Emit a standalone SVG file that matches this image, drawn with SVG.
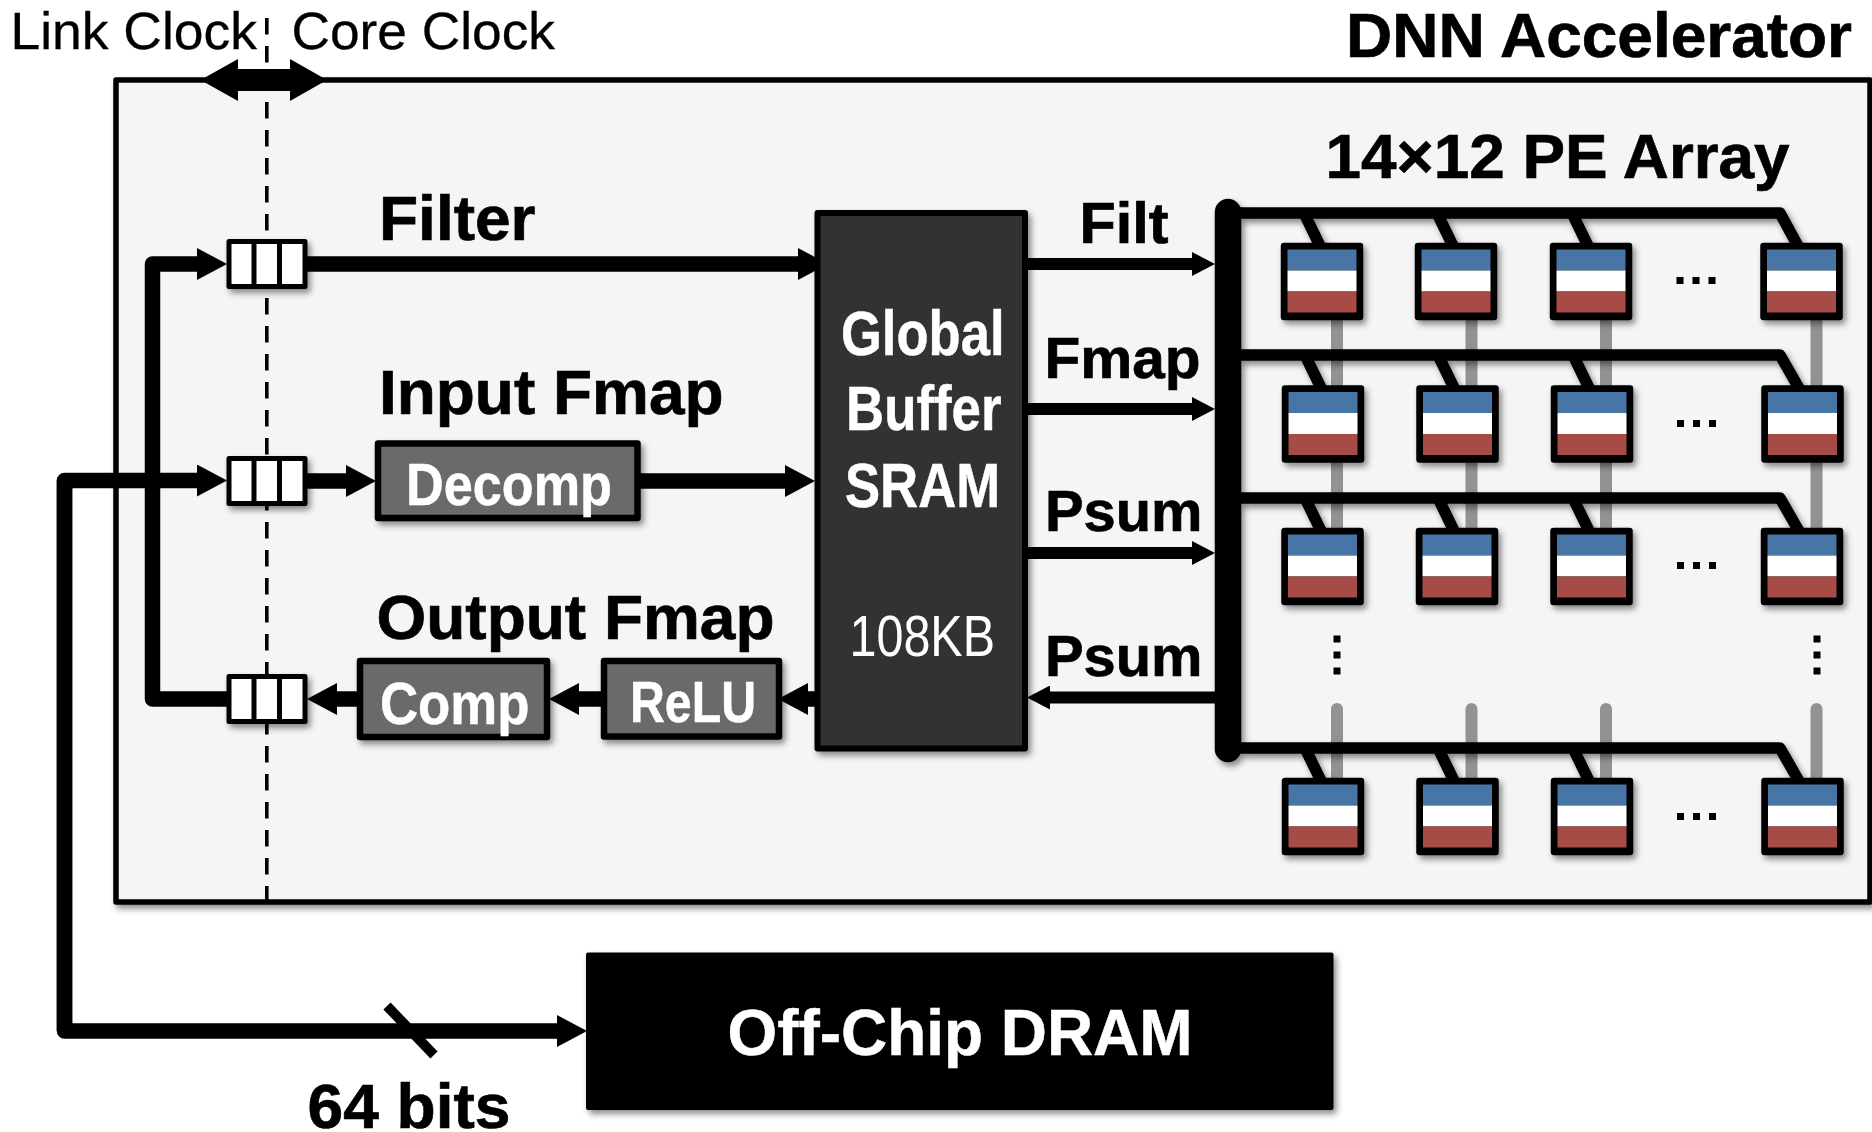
<svg xmlns="http://www.w3.org/2000/svg" xmlns:xlink="http://www.w3.org/1999/xlink" width="1872" height="1132" viewBox="0 0 1872 1132">
<style>
text{font-family:"Liberation Sans",Arial,sans-serif;fill:#000}
.b{font-weight:700;stroke:#000;stroke-width:0.7}
.b.w{stroke:#fff;stroke-width:0.5}
.w{fill:#fff}
.s63{font-size:63px}
.s57{font-size:57px}
.bus{fill:none;stroke:#000;stroke-linejoin:round}
.t15{stroke-width:15.5}
.t12{stroke-width:12}
.row{fill:none;stroke:#000;stroke-width:11.5;stroke-linejoin:round}
.grey{stroke:#929292;stroke-width:12;stroke-linecap:round;fill:none}
.gbox{fill:#6b6b6b;stroke:#000;stroke-width:6.5;stroke-linejoin:round}
.fifo{fill:#fff;stroke:#000;stroke-width:5;stroke-linejoin:round}
.sh{filter:url(#shadow)}
.dot{fill:#000}
</style>
<defs>
<filter id="shadow" filterUnits="userSpaceOnUse" x="0" y="0" width="1872" height="1132">
<feDropShadow dx="3" dy="4" stdDeviation="3" flood-color="#000" flood-opacity="0.45"/>
</filter>
<marker id="aL" markerUnits="userSpaceOnUse" markerWidth="30" markerHeight="32" refX="0" refY="16" orient="auto"><path d="M0 0L30 16L0 32Z"/></marker>
<marker id="aS" markerUnits="userSpaceOnUse" markerWidth="23" markerHeight="24" refX="0" refY="12" orient="auto"><path d="M0 0L23 12L0 24Z"/></marker>
<g id="pe">
<rect x="3" y="3" width="76" height="71" fill="#000" stroke="#000" stroke-width="6.5" stroke-linejoin="round"/>
<rect x="6.5" y="6.5" width="69" height="21" fill="#4674a6"/>
<rect x="6.5" y="27.5" width="69" height="21" fill="#fff"/>
<rect x="6.5" y="48.5" width="69" height="21" fill="#a64b45"/>
</g>
<g id="fifocell">
<rect class="fifo" x="229" y="2.5" width="76" height="45"/>
<path d="M254 2.5V47.5M279.5 2.5V47.5" stroke="#000" stroke-width="5" fill="none"/>
</g>
<g id="hdots"><rect class="dot" x="0" y="0" width="7" height="7"/><rect class="dot" x="16" y="0" width="7" height="7"/><rect class="dot" x="32" y="0" width="7" height="7"/></g>
<g id="vdots"><rect class="dot" x="0" y="0" width="7" height="7"/><rect class="dot" x="0" y="16" width="7" height="7"/><rect class="dot" x="0" y="32" width="7" height="7"/></g>
</defs>

<rect width="1872" height="1132" fill="#fff"/>

<g id="accelerator">
<rect class="sh" x="116" y="80" width="1754" height="822" fill="#f5f5f5" stroke="#000" stroke-width="5.5" stroke-linejoin="round"/>
<text class="b s63" x="1346" y="57" textLength="506" lengthAdjust="spacingAndGlyphs">DNN Accelerator</text>
<text class="b s63" x="1325.5" y="178" textLength="464" lengthAdjust="spacingAndGlyphs">14×12 PE Array</text>
</g>

<g id="clock-labels">
<text x="10.5" y="49" font-size="52" stroke="#000" stroke-width="0.3" textLength="246.5" lengthAdjust="spacingAndGlyphs">Link Clock</text>
<text x="291.5" y="49" font-size="52" stroke="#000" stroke-width="0.3" textLength="263.5" lengthAdjust="spacingAndGlyphs">Core Clock</text>
</g>

<g id="connectors">
<path d="M266.8 18V902" stroke="#000" stroke-width="3.6" stroke-dasharray="16.5 11.5" fill="none"/>
<path d="M200.5 80L238 59V69H290V59L327 80L290 101V91H238V101Z" fill="#000"/>
<path class="bus t15" d="M229 699H152.5V264H197" marker-end="url(#aL)"/>
<path class="bus t15" d="M64.5 1031V480.5H197" marker-end="url(#aL)"/>
<path class="bus t15" d="M64.5 480.5V1031H557" marker-end="url(#aL)"/>
<path d="M387 1006L434 1055" stroke="#000" stroke-width="10" fill="none"/>
<path class="bus t15" d="M305 264H798" marker-end="url(#aL)"/>
<path class="bus t15" d="M305 481H346" marker-end="url(#aL)"/>
<path class="bus t15" d="M638 481H785" marker-end="url(#aL)"/>
<path class="bus t15" d="M358 699H337" marker-end="url(#aL)"/>
<path class="bus t15" d="M602 699H579" marker-end="url(#aL)"/>
<path class="bus t15" d="M816 699H808" marker-end="url(#aL)"/>
<path class="bus t12" d="M1026 264H1192" marker-end="url(#aS)"/>
<path class="bus t12" d="M1026 409H1192" marker-end="url(#aS)"/>
<path class="bus t12" d="M1026 553H1192" marker-end="url(#aS)"/>
<path class="bus t12" d="M1216 697.5H1050" marker-end="url(#aS)"/>
<g>
<path class="grey" d="M1337 319V530M1471.5 319V530M1606 319V530M1816.5 319V530"/>
<path class="grey" d="M1337 709V780M1471.5 709V780M1606 709V780M1816.5 709V780"/>
</g>
<g class="sh">
<path d="M1228 212V749" stroke="#000" stroke-width="26.5" stroke-linecap="round" fill="none"/>
<path class="row" d="M1228 213H1780L1799 248M1304 213L1321 248M1437 213L1454 248M1572 213L1589 248"/>
<path class="row" d="M1228 355H1780L1800 390M1305 355L1322 390M1438 355L1455 390M1573 355L1590 390"/>
<path class="row" d="M1228 498H1780L1800 533M1305 498L1322 533M1438 498L1455 533M1573 498L1590 533"/>
<path class="row" d="M1228 748H1780L1800 783M1305 748L1322 783M1438 748L1455 783M1573 748L1590 783"/>
</g>
</g>

<g id="fifo-filter" class="sh"><use xlink:href="#fifocell" href="#fifocell" y="239"/></g>
<g id="fifo-input" class="sh"><use xlink:href="#fifocell" href="#fifocell" y="456"/></g>
<g id="fifo-output" class="sh"><use xlink:href="#fifocell" href="#fifocell" y="674"/></g>

<g id="labels">
<text class="b s63" x="379" y="240" textLength="156.5" lengthAdjust="spacingAndGlyphs">Filter</text>
<text class="b s63" x="379" y="414" textLength="344.5" lengthAdjust="spacingAndGlyphs">Input Fmap</text>
<text class="b s63" x="376.5" y="638.5" textLength="398" lengthAdjust="spacingAndGlyphs">Output Fmap</text>
<text class="b s63" x="307.5" y="1128" textLength="203" lengthAdjust="spacingAndGlyphs">64 bits</text>
<text class="b s57" x="1079.5" y="242.5" textLength="89" lengthAdjust="spacingAndGlyphs">Filt</text>
<text class="b s57" x="1044.5" y="378" textLength="156" lengthAdjust="spacingAndGlyphs">Fmap</text>
<text class="b s57" x="1045" y="530.5" textLength="157.5" lengthAdjust="spacingAndGlyphs">Psum</text>
<text class="b s57" x="1045" y="676" textLength="157.5" lengthAdjust="spacingAndGlyphs">Psum</text>
</g>

<g id="decomp" class="sh">
<rect class="gbox" x="378" y="443.5" width="259.5" height="74.5"/>
<text class="b w" font-size="60" x="406" y="504.5" textLength="206" lengthAdjust="spacingAndGlyphs">Decomp</text>
</g>
<g id="comp" class="sh">
<rect class="gbox" x="360" y="661" width="187" height="76"/>
<text class="b w" font-size="60" x="380" y="723.5" textLength="149.5" lengthAdjust="spacingAndGlyphs">Comp</text>
</g>
<g id="relu" class="sh">
<rect class="gbox" x="604" y="661" width="175" height="75.5"/>
<text class="b w" font-size="57" x="630" y="721.5" textLength="126" lengthAdjust="spacingAndGlyphs">ReLU</text>
</g>

<g id="global-buffer" class="sh">
<rect x="817.5" y="213" width="207.5" height="535.5" fill="#333" stroke="#000" stroke-width="6" stroke-linejoin="round"/>
<text class="b w s63" x="841" y="355" textLength="163.5" lengthAdjust="spacingAndGlyphs">Global</text>
<text class="b w s63" x="846" y="429.5" textLength="155.5" lengthAdjust="spacingAndGlyphs">Buffer</text>
<text class="b w s63" x="845" y="506.5" textLength="155" lengthAdjust="spacingAndGlyphs">SRAM</text>
<text class="w s57" x="849.5" y="656" textLength="145.5" lengthAdjust="spacingAndGlyphs">108KB</text>
</g>

<g id="pe-array">
<g id="pe-r1-c1" class="sh"><use xlink:href="#pe" href="#pe" x="1281" y="243"/></g>
<g id="pe-r1-c2" class="sh"><use xlink:href="#pe" href="#pe" x="1415" y="243"/></g>
<g id="pe-r1-c3" class="sh"><use xlink:href="#pe" href="#pe" x="1550" y="243"/></g>
<g id="pe-r1-c4" class="sh"><use xlink:href="#pe" href="#pe" x="1760.5" y="243"/></g>
<g id="pe-r2-c1" class="sh"><use xlink:href="#pe" href="#pe" x="1282" y="385.5"/></g>
<g id="pe-r2-c2" class="sh"><use xlink:href="#pe" href="#pe" x="1416.5" y="385.5"/></g>
<g id="pe-r2-c3" class="sh"><use xlink:href="#pe" href="#pe" x="1551" y="385.5"/></g>
<g id="pe-r2-c4" class="sh"><use xlink:href="#pe" href="#pe" x="1761.5" y="385.5"/></g>
<g id="pe-r3-c1" class="sh"><use xlink:href="#pe" href="#pe" x="1281.5" y="528"/></g>
<g id="pe-r3-c2" class="sh"><use xlink:href="#pe" href="#pe" x="1416" y="528"/></g>
<g id="pe-r3-c3" class="sh"><use xlink:href="#pe" href="#pe" x="1550.5" y="528"/></g>
<g id="pe-r3-c4" class="sh"><use xlink:href="#pe" href="#pe" x="1761" y="528"/></g>
<g id="pe-r4-c1" class="sh"><use xlink:href="#pe" href="#pe" x="1282" y="778"/></g>
<g id="pe-r4-c2" class="sh"><use xlink:href="#pe" href="#pe" x="1416.5" y="778"/></g>
<g id="pe-r4-c3" class="sh"><use xlink:href="#pe" href="#pe" x="1551" y="778"/></g>
<g id="pe-r4-c4" class="sh"><use xlink:href="#pe" href="#pe" x="1761.5" y="778"/></g>
<use xlink:href="#hdots" href="#hdots" x="1676.5" y="277"/>
<use xlink:href="#hdots" href="#hdots" x="1677" y="420"/>
<use xlink:href="#hdots" href="#hdots" x="1677" y="562"/>
<use xlink:href="#hdots" href="#hdots" x="1677" y="813"/>
<use xlink:href="#vdots" href="#vdots" x="1333.5" y="635.5"/>
<use xlink:href="#vdots" href="#vdots" x="1813.5" y="635.5"/>
</g>

<g id="dram" class="sh">
<rect x="586" y="952.5" width="747.5" height="157.5" rx="2" fill="#000"/>
<text class="b w" font-size="65" x="727.5" y="1055" textLength="465" lengthAdjust="spacingAndGlyphs">Off-Chip DRAM</text>
</g>
</svg>
